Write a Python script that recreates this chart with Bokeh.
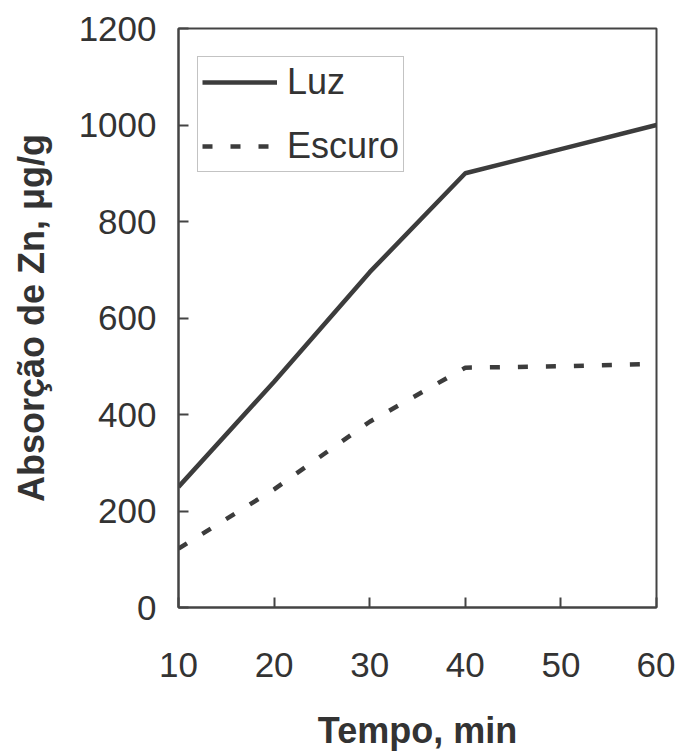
from bokeh.plotting import figure
from bokeh.models import Legend, LegendItem, FixedTicker, Range1d
from bokeh.embed import file_html
from bokeh.resources import INLINE

tempo = [10, 20, 30, 40, 50, 60]
luz = [250, 468, 695, 900, 950, 1000]
escuro = [122, 245, 385, 497, 500, 505]
x_ticks = [10, 20, 30, 40, 50, 60]
y_ticks = [0, 200, 400, 600, 800, 1000, 1200]

FONT = "Liberation Sans"
DARK = "#3c3c3c"

p = figure(width=675, height=754, output_backend="svg", toolbar_location=None,
           x_range=Range1d(10, 60), y_range=Range1d(0, 1200),
           min_border_left=178, min_border_right=19, min_border_top=28, min_border_bottom=147)
p.background_fill_color = "white"
p.border_fill_color = "white"
p.outline_line_color = "#444444"
p.outline_line_width = 2
p.xgrid.visible = False
p.ygrid.visible = False

r1 = p.line(tempo, luz, line_width=4.5, line_color=DARK)
r2 = p.line(tempo, escuro, line_width=4.5, line_color=DARK, line_dash="10 18")

for ax in (p.xaxis[0], p.yaxis[0]):
    ax.axis_line_color = "#444444"
    ax.axis_line_width = 2
    ax.major_tick_line_color = "#444444"
    ax.major_tick_line_width = 2
    ax.major_tick_in = 10
    ax.major_tick_out = 0
    ax.minor_tick_line_color = None
    ax.major_label_text_font = FONT
    ax.major_label_text_font_size = "35px"
    ax.major_label_text_color = "#333333"
    ax.axis_label_text_font = FONT
    ax.axis_label_text_font_size = "36px"
    ax.axis_label_text_font_style = "bold"
    ax.axis_label_text_color = "#333333"

p.xaxis.ticker = FixedTicker(ticks=x_ticks)
p.yaxis.ticker = FixedTicker(ticks=y_ticks)
p.xaxis.major_label_standoff = 45
p.yaxis.major_label_standoff = 22
p.xaxis.axis_label = "Tempo, min"
p.yaxis.axis_label = "Absorção de Zn, μg/g"
p.xaxis.axis_label_standoff = 30
p.yaxis.axis_label_standoff = 24

legend = Legend(items=[LegendItem(label="Luz", renderers=[r1]),
                       LegendItem(label="Escuro", renderers=[r2])],
                location=(19, 435))
legend.label_text_font = FONT
legend.label_text_font_size = "36px"
legend.label_text_color = "#333333"
legend.glyph_width = 75
legend.glyph_height = 40
legend.label_height = 40
legend.label_standoff = 10
legend.spacing = 22
legend.padding = 4
legend.border_line_color = "#888888"
legend.border_line_width = 1
legend.background_fill_color = "white"
legend.background_fill_alpha = 1
p.add_layout(legend)

open("out.html", "w").write(file_html(p, INLINE))
